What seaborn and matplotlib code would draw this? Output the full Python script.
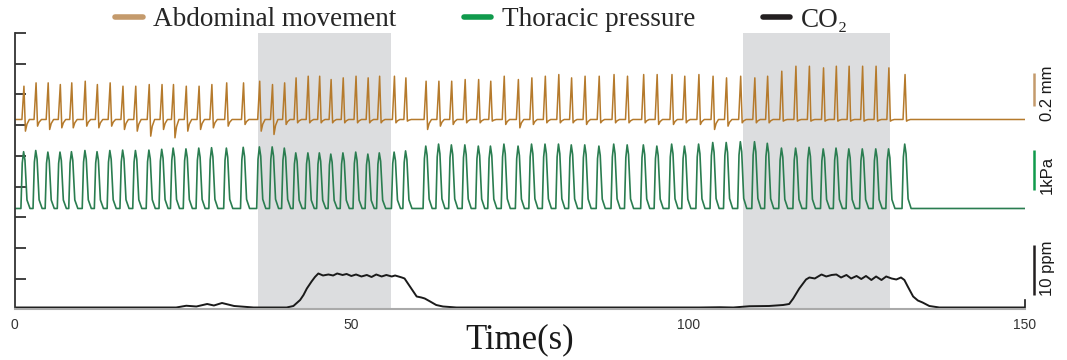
import numpy as np
import pandas as pd
import seaborn as sns
import matplotlib.pyplot as plt
from matplotlib.lines import Line2D

# breath peak times (s), shared by both respiratory channels
peak_times = [1.4, 3.2, 5.0, 6.8, 8.5, 10.5, 12.3, 14.2, 16.1, 18.0,
              20.0, 21.9, 23.6, 25.5, 27.4, 29.3, 31.5, 34.0, 36.4, 38.3,
              40.1, 41.8, 43.6, 45.3, 47.0, 48.8, 50.7, 52.5, 54.2, 56.4,
              58.1, 61.1, 63.0, 64.9, 66.9, 68.9, 70.7, 72.7, 74.8, 76.8,
              78.8, 80.8, 82.7, 84.7, 86.8, 89.0, 91.0, 93.4, 95.4, 97.6,
              99.5, 101.6, 103.7, 105.7, 107.8, 109.9, 111.8, 113.9, 116.0, 118.0,
              120.1, 122.0, 123.9, 125.9, 127.9, 129.8, 132.2]

# abdominal movement: spike height and dip below baseline (mm)
abd_peak_mm = [0.20, 0.22, 0.22, 0.21, 0.22, 0.23, 0.21, 0.22, 0.20, 0.20,
               0.21, 0.21, 0.21, 0.20, 0.20, 0.21, 0.22, 0.22, 0.23, 0.21,
               0.22, 0.25, 0.26, 0.26, 0.24, 0.25, 0.26, 0.25, 0.26, 0.26,
               0.25, 0.23, 0.23, 0.23, 0.24, 0.24, 0.23, 0.26, 0.24, 0.25,
               0.26, 0.27, 0.25, 0.26, 0.26, 0.27, 0.26, 0.27, 0.27, 0.27,
               0.26, 0.27, 0.26, 0.25, 0.26, 0.25, 0.26, 0.29, 0.32, 0.32,
               0.31, 0.32, 0.32, 0.32, 0.32, 0.31, 0.27]
abd_dip_mm = [0.07, 0.04, 0.06, 0.05, 0.05, 0.04, 0.05, 0.04, 0.06, 0.07,
              0.10, 0.06, 0.11, 0.07, 0.06, 0.05, 0.04, 0.03, 0.07, 0.09,
              0.03, 0.02, 0.02, 0.02, 0.02, 0.02, 0.02, 0.02, 0.02, 0.02,
              0.01, 0.06, 0.04, 0.03, 0.02, 0.02, 0.01, 0.03, 0.05, 0.03,
              0.02, 0.02, 0.02, 0.03, 0.02, 0.02, 0.02, 0.02, 0.03, 0.03,
              0.02, 0.03, 0.06, 0.04, 0.02, 0.02, 0.02, 0.01, 0.01, 0.01,
              0.01, 0.01, 0.01, 0.01, 0.01, 0.01, 0.01]

# thoracic pressure peaks (kPa)
thor_peak_kpa = [1.42, 1.45, 1.41, 1.41, 1.42, 1.45, 1.42, 1.45, 1.46, 1.45,
                 1.46, 1.48, 1.51, 1.49, 1.51, 1.52, 1.51, 1.53, 1.54, 1.54,
                 1.51, 1.39, 1.39, 1.39, 1.36, 1.39, 1.41, 1.36, 1.39, 1.41,
                 1.44, 1.56, 1.61, 1.59, 1.59, 1.56, 1.56, 1.61, 1.56, 1.61,
                 1.61, 1.61, 1.59, 1.59, 1.56, 1.61, 1.59, 1.59, 1.56, 1.61,
                 1.56, 1.61, 1.65, 1.65, 1.67, 1.67, 1.63, 1.51, 1.51, 1.53,
                 1.49, 1.51, 1.49, 1.49, 1.49, 1.49, 1.61]

# CO2 above baseline (ppm)
co2_t = [0, 24.0, 25.5, 27.0, 28.6, 29.6, 30.8, 32.6, 35.5, 40.4,
         41.4, 42.4, 42.9, 43.4, 44.1, 44.6, 45.1, 45.8, 46.6, 47.3,
         47.9, 48.7, 49.3, 50.0, 50.7, 51.5, 52.3, 53.0, 53.7, 54.5,
         55.2, 56.0, 56.5, 57.5, 57.9, 58.4, 59.2, 59.7, 60.4, 60.9,
         61.7, 62.6, 63.6, 65.6, 101.7, 104.7, 106.7, 109.1, 112.0, 114.1,
         115.0, 115.6, 116.5, 117.5, 118.0, 118.8, 119.8, 120.5, 121.3, 122.0,
         122.7, 123.5, 124.2, 125.0, 125.7, 126.4, 127.2, 127.9, 128.7, 129.4,
         130.2, 130.9, 131.6, 132.1, 132.6, 133.4, 134.1, 134.8, 135.8, 137.3, 150]
co2_ppm = [0, 0, 0.35, 0.2, 0.7, 0.4, 0.9, 0.3, 0, 0,
           0.3, 1.5, 2.5, 3.8, 5.2, 6.1, 6.8, 6.4, 6.6, 6.4,
           6.8, 6.5, 6.7, 6.3, 6.6, 6.2, 6.5, 6.1, 6.6, 6.2,
           6.5, 6.2, 6.4, 6.0, 5.8, 4.8, 3.2, 2.2, 2.0, 1.8,
           1.2, 0.5, 0.2, 0, 0, 0.05, 0, 0.25, 0.3, 0.5,
           0.7, 1.8, 3.8, 5.6, 6.0, 5.8, 6.6, 6.2, 6.5, 6.6,
           6.0, 6.5, 5.8, 6.3, 5.7, 6.3, 5.5, 6.2, 5.5, 6.2,
           5.8, 5.6, 6.0, 5.5, 4.2, 2.2, 1.4, 1.0, 0.3, 0, 0]

# CO2 stimulation windows (s)
stim_windows = [(36.2, 55.9), (108.1, 129.9)]

labels = ['Abdominal movement', 'Thoracic pressure', 'CO₂']
line_colors = ['#b57a2c', '#2a7d50', '#1a1a1a']
key_colors = ['#c49a6c', '#109a4c', '#231f20']

# vertical stacking: baseline (axis units) and axis units per physical unit
abd_base, abd_scale = 6.185, 5.42
thor_base, thor_scale = 3.288, 1.302
co2_base, co2_scale = 0.065, 0.1628

# pulse shape of the pressure channel (time offset s, fraction of peak)
thor_offs = [-0.45, -0.25, -0.05, 0.15, 0.45, 0.9]
thor_shape = [0.0, 0.8, 1.0, 0.85, 0.15, 0.0]


def abd_trace():
    t, y = [0.0], [0.0]
    for tp, h, d in zip(peak_times, abd_peak_mm, abd_dip_mm):
        t += [tp - 0.3, tp, tp + 0.22, tp + 0.45, tp + 0.8]
        y += [0.0, h, -d, -0.4 * d, 0.0]
    t.append(150.0)
    y.append(0.0)
    return pd.DataFrame({'t': t, 'v': abd_base + abd_scale * np.array(y)})


def thor_trace():
    t, y = [0.0], [0.0]
    for tp, h in zip(peak_times, thor_peak_kpa):
        t += [tp + o for o in thor_offs]
        y += [h * s for s in thor_shape]
    t.append(150.0)
    y.append(0.0)
    return pd.DataFrame({'t': t, 'v': thor_base + thor_scale * np.array(y)})


abd = abd_trace()
thor = thor_trace()
co2 = pd.DataFrame({'t': co2_t, 'v': co2_base + co2_scale * np.array(co2_ppm)})

sns.set_theme(style='ticks')
plt.rcParams['font.family'] = ['Liberation Sans', 'DejaVu Sans']

fig = plt.figure(figsize=(10.67, 3.6), dpi=100)
ax = fig.add_axes([0.0136, 0.1403, 0.947, 0.768])

for a, b in stim_windows:
    ax.axvspan(a, b, color='#dcdddf', lw=0, zorder=0)

sns.lineplot(data=abd, x='t', y='v', ax=ax, color=line_colors[0], lw=1.1,
             estimator=None, sort=False)
sns.lineplot(data=thor, x='t', y='v', ax=ax, color=line_colors[1], lw=1.2,
             estimator=None, sort=False)
sns.lineplot(data=co2, x='t', y='v', ax=ax, color=line_colors[2], lw=1.4,
             estimator=None, sort=False)

ax.set_xlim(0, 150)
ax.set_ylim(0, 9)
ax.set_yticks(range(10))
ax.set_yticklabels([])
ax.tick_params(axis='y', direction='in', length=8, width=1.3, color='#333333')
ax.set_xticks([0, 50, 100, 150])
ax.tick_params(axis='x', length=0, pad=6, labelsize=10, labelcolor='#333333')
ax.spines['top'].set_visible(False)
ax.spines['left'].set_color('#333333')
ax.spines['left'].set_linewidth(1.3)
ax.spines['bottom'].set_color('#aaaaaa')
ax.spines['bottom'].set_linewidth(1.5)
ax.spines['right'].set_bounds(0, 0.3)
ax.spines['right'].set_color('#1a1a1a')
ax.spines['right'].set_linewidth(1.2)
ax.set_ylabel('')
ax.set_xlabel('Time(s)', family=['Liberation Serif', 'DejaVu Serif'],
              fontsize=25, color='#1a1a1a', labelpad=-6)

# scale bars at the right edge
bar_x = 151.3
bars = [(6.62, 0.2 * abd_scale, key_colors[0], '0.2 mm', 7.05),
        (3.89, 1.0 * thor_scale, key_colors[1], '1kPa', 4.38),
        (0.47, 10 * co2_scale, key_colors[2], '10 ppm', 1.35)]
for y0, length, c, txt, ty in bars:
    ax.plot([bar_x, bar_x], [y0, y0 + length], color=c, lw=1.8,
            solid_capstyle='butt', clip_on=False)
    ax.text(153.3, ty, txt, rotation=90, ha='center', va='center',
            fontsize=12, color='#1a1a1a', clip_on=False)

handles = [Line2D([], [], color=c, lw=4) for c in key_colors]
fig.legend(handles, labels, loc='center', bbox_to_anchor=(482 / 1067, 1 - 20 / 360),
           ncol=3, frameon=False, handlelength=1.0, handletextpad=0.4,
           columnspacing=2.5,
           prop={'family': ['Liberation Serif', 'DejaVu Serif'], 'size': 19.5})

fig.savefig('out.png', dpi=100)
